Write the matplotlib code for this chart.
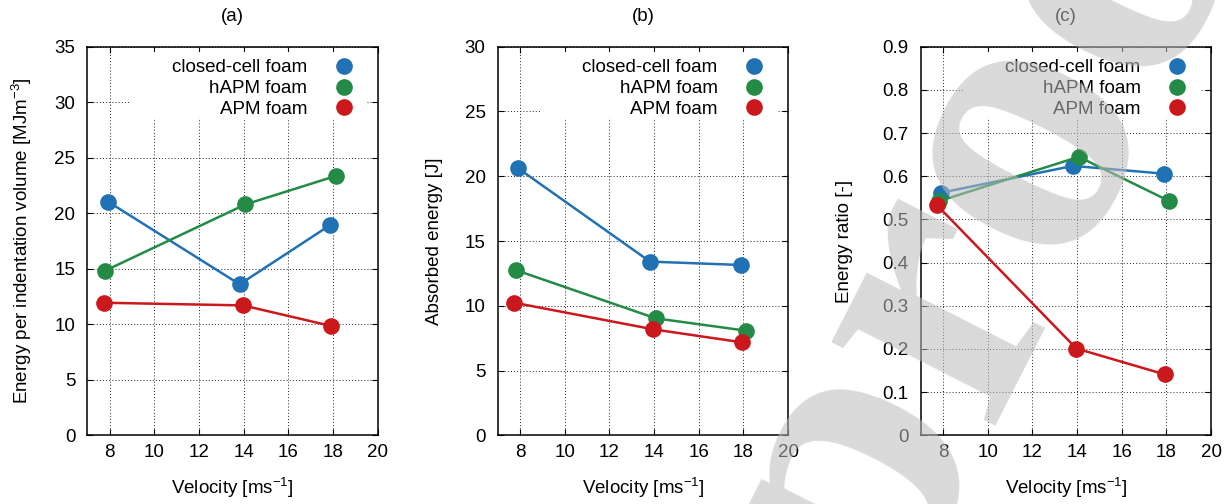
import matplotlib
matplotlib.use("Agg")
from matplotlib import pyplot as plt
from matplotlib import ticker
from matplotlib.lines import Line2D
from matplotlib.patches import Rectangle

plt.rcParams['font.family'] = ['Liberation Sans', 'DejaVu Sans']
plt.rcParams['mathtext.default'] = 'regular'

# impact velocities actually reached in each test [m/s]
v_closed = [7.92, 13.82, 17.88]
v_hapm = [7.80, 14.08, 18.11]
v_apm = [7.73, 13.97, 17.93]

foam_labels = ['closed-cell foam', 'hAPM foam', 'APM foam']
foam_colors = ['#2171b5', '#238b45', '#cb181d']

# (a) energy per indentation volume [MJ m^-3]
epv_closed = [21.05, 13.6, 18.95]
epv_hapm = [14.83, 20.8, 23.35]
epv_apm = [11.94, 11.7, 9.84]

# (b) absorbed energy [J]
abs_closed = [20.61, 13.41, 13.15]
abs_hapm = [12.76, 9.03, 8.08]
abs_apm = [10.24, 8.18, 7.18]

# (c) energy ratio [-]
ratio_closed = [0.562, 0.624, 0.606]
ratio_hapm = [0.542, 0.645, 0.543]
ratio_apm = [0.533, 0.201, 0.141]

x_ticks = [8, 10, 12, 14, 16, 18, 20]
yticks_a = [0, 5, 10, 15, 20, 25, 30, 35]
yticks_b = [0, 5, 10, 15, 20, 25, 30]
yticks_c = [0, 0.1, 0.2, 0.3, 0.4, 0.5, 0.6, 0.7, 0.8, 0.9]

panels = [
    ('(a)', 'Energy per indentation volume [MJm$^{-3}$]', yticks_a,
     [epv_closed, epv_hapm, epv_apm], -0.1835),
    ('(b)', 'Absorbed energy [J]', yticks_b,
     [abs_closed, abs_hapm, abs_apm], -0.189),
    ('(c)', 'Energy ratio [-]', yticks_c,
     [ratio_closed, ratio_hapm, ratio_apm], -0.233),
]
velocities = [v_closed, v_hapm, v_apm]
lefts = [0.0710, 0.4046, 0.7485]

fs = 13.5
fig = plt.figure(figsize=(12.3, 5.04), dpi=100)

for (title, ylabel, yticks, series, ylab_x), left in zip(panels, lefts):
    ax = fig.add_axes([left, 0.1363, 0.2361, 0.7710])
    ax.set_axisbelow(True)
    ax.grid(True, color='#222222', linewidth=0.7, linestyle=(0, (1, 2.2)))

    # white box behind the key hides the grid there
    ax.add_patch(Rectangle((0.147, 0.816), 0.815, 0.17, transform=ax.transAxes,
                           facecolor='white', edgecolor='none', zorder=1))

    for v, y, c in zip(velocities, series, foam_colors):
        ax.plot(v, y, color=c, linewidth=1.8, marker='o', markersize=12,
                markeredgewidth=0, zorder=3)

    handles = [Line2D([], [], linestyle='none', marker='o', markersize=12,
                      markeredgewidth=0, color=c) for c in foam_colors]
    ax.legend(handles, foam_labels, loc='upper right', bbox_to_anchor=(0.915, 0.968),
              markerfirst=False, frameon=False, handlelength=1.0, handletextpad=1.44,
              labelspacing=0.2, borderpad=0, borderaxespad=0, fontsize=fs)

    ax.set_xlim(7, 20)
    ax.set_xticks(x_ticks)
    ax.set_ylim(yticks[0], yticks[-1])
    ax.set_yticks(yticks)
    ax.yaxis.set_major_formatter(ticker.FormatStrFormatter('%g'))

    ax.tick_params(direction='in', top=True, right=True, length=4.3, width=0.8,
                   labelsize=fs, color='black')
    ax.tick_params(axis='x', pad=6.6)
    ax.tick_params(axis='y', pad=8.6)
    for sp in ax.spines.values():
        sp.set_linewidth(1.1)

    ax.set_title(title, fontsize=fs, pad=18.5)
    ax.set_xlabel('Velocity [ms$^{-1}$]', fontsize=fs, labelpad=10.5)
    ax.set_ylabel(ylabel, fontsize=fs)
    ax.yaxis.set_label_coords(ylab_x, 0.5)

# page watermark running across the right panel
fig.text(0.4960, -1.3447, 'Journal Pre-proof', rotation=63, rotation_mode='anchor',
         ha='center', va='baseline', fontsize=288, family='Liberation Serif',
         weight='bold', color='#bcbcbc', alpha=0.56, zorder=10)

fig.savefig('out.png', dpi=100)
